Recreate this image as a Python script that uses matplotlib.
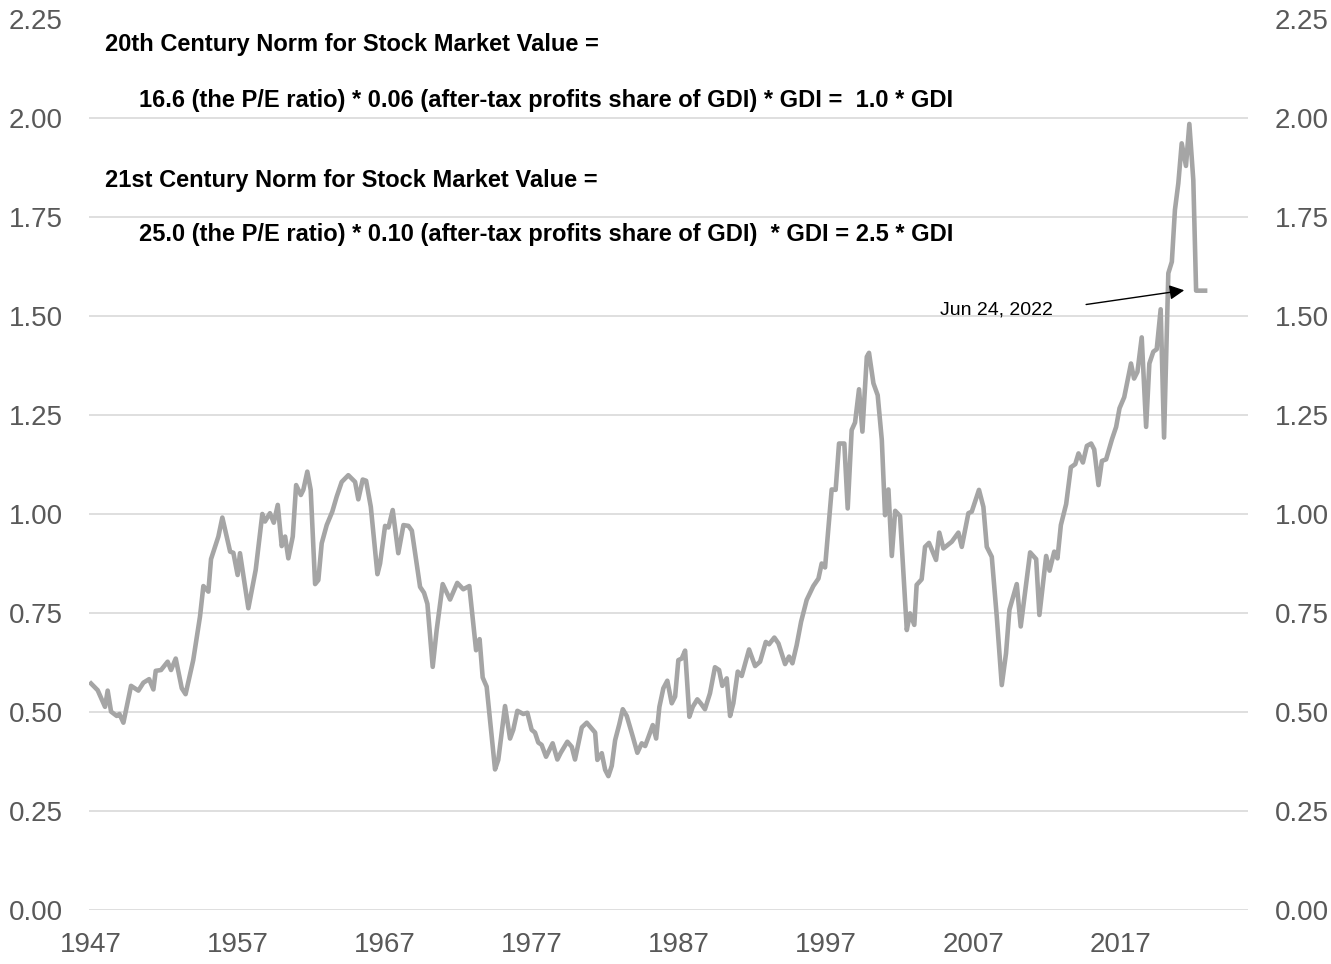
import matplotlib.pyplot as plt

# stock market value relative to GDI (fractional years)
years = [
    1947.00, 1947.45, 1947.95, 1948.13, 1948.36, 1948.75, 1948.93, 1949.20, 1949.72, 1950.22,
    1950.56, 1950.95, 1951.24, 1951.40, 1951.76, 1952.21, 1952.44, 1952.76, 1953.17, 1953.43,
    1953.95, 1954.41, 1954.64, 1954.98, 1955.16, 1955.66, 1955.93, 1956.46, 1956.68, 1956.97,
    1957.13, 1957.70, 1958.20, 1958.65, 1958.83, 1959.17, 1959.43, 1959.70, 1959.97, 1960.20,
    1960.42, 1960.72, 1960.95, 1961.27, 1961.44, 1961.71, 1961.94, 1962.24, 1962.46, 1962.69,
    1963.03, 1963.41, 1963.71, 1964.05, 1964.50, 1964.96, 1965.18, 1965.48, 1965.71, 1966.03,
    1966.48, 1966.66, 1967.00, 1967.23, 1967.52, 1967.90, 1968.25, 1968.59, 1968.82, 1969.38,
    1969.65, 1969.88, 1970.24, 1970.51, 1970.92, 1971.42, 1971.91, 1972.32, 1972.73, 1973.19,
    1973.43, 1973.64, 1973.91, 1974.48, 1974.70, 1975.16, 1975.50, 1975.72, 1976.00, 1976.40,
    1976.68, 1976.97, 1977.20, 1977.42, 1977.65, 1977.95, 1978.40, 1978.72, 1978.95, 1979.40,
    1979.70, 1979.92, 1980.38, 1980.72, 1981.29, 1981.44, 1981.74, 1981.97, 1982.19, 1982.42,
    1982.65, 1982.94, 1983.17, 1983.44, 1983.85, 1984.16, 1984.46, 1984.69, 1984.91, 1985.21,
    1985.44, 1985.66, 1985.93, 1986.20, 1986.50, 1986.73, 1986.95, 1987.18, 1987.41, 1987.70,
    1987.93, 1988.24, 1988.47, 1988.76, 1989.10, 1989.44, 1989.72, 1989.94, 1990.24, 1990.47,
    1990.69, 1990.99, 1991.26, 1991.76, 1992.17, 1992.51, 1992.90, 1993.12, 1993.48, 1993.76,
    1994.21, 1994.48, 1994.71, 1995.00, 1995.30, 1995.68, 1996.13, 1996.48, 1996.70, 1996.93,
    1997.15, 1997.38, 1997.65, 1997.88, 1998.24, 1998.47, 1998.74, 1998.97, 1999.24, 1999.47,
    1999.77, 1999.92, 2000.22, 2000.51, 2000.79, 2001.01, 2001.24, 2001.47, 2001.70, 2002.03,
    2002.49, 2002.71, 2003.00, 2003.16, 2003.50, 2003.73, 2004.00, 2004.48, 2004.70, 2004.98,
    2005.55, 2006.00, 2006.23, 2006.68, 2006.91, 2007.40, 2007.70, 2007.93, 2008.27, 2008.61,
    2008.95, 2009.24, 2009.47, 2009.97, 2010.24, 2010.88, 2011.29, 2011.51, 2011.97, 2012.20,
    2012.52, 2012.74, 2012.97, 2013.33, 2013.65, 2013.95, 2014.17, 2014.47, 2014.74, 2015.03,
    2015.24, 2015.53, 2015.76, 2016.05, 2016.44, 2016.73, 2016.96, 2017.28, 2017.74, 2017.95,
    2018.18, 2018.47, 2018.77, 2018.99, 2019.26, 2019.49, 2019.76, 2019.99, 2020.28, 2020.52,
    2020.73, 2020.96, 2021.19, 2021.48, 2021.71, 2021.98, 2022.17, 2022.78,
]
values = [
    0.572, 0.555, 0.513, 0.554, 0.501, 0.490, 0.495, 0.473, 0.566, 0.554,
    0.574, 0.583, 0.557, 0.604, 0.606, 0.627, 0.606, 0.635, 0.560, 0.545,
    0.631, 0.741, 0.818, 0.804, 0.886, 0.943, 0.991, 0.905, 0.902, 0.846,
    0.901, 0.762, 0.859, 1.000, 0.981, 1.002, 0.978, 1.023, 0.919, 0.943,
    0.888, 0.943, 1.073, 1.048, 1.061, 1.107, 1.061, 0.823, 0.833, 0.926,
    0.972, 1.006, 1.044, 1.081, 1.098, 1.081, 1.037, 1.087, 1.084, 1.018,
    0.848, 0.875, 0.970, 0.966, 1.010, 0.901, 0.972, 0.970, 0.958, 0.816,
    0.801, 0.773, 0.614, 0.707, 0.823, 0.784, 0.826, 0.810, 0.818, 0.656,
    0.684, 0.587, 0.564, 0.355, 0.379, 0.515, 0.433, 0.455, 0.503, 0.495,
    0.498, 0.455, 0.448, 0.423, 0.417, 0.387, 0.421, 0.380, 0.397, 0.425,
    0.412, 0.380, 0.461, 0.473, 0.448, 0.379, 0.396, 0.354, 0.338, 0.364,
    0.429, 0.470, 0.507, 0.490, 0.438, 0.397, 0.421, 0.414, 0.436, 0.467,
    0.433, 0.513, 0.560, 0.579, 0.522, 0.539, 0.631, 0.635, 0.655, 0.488,
    0.513, 0.532, 0.522, 0.507, 0.547, 0.613, 0.606, 0.566, 0.585, 0.490,
    0.522, 0.602, 0.591, 0.658, 0.616, 0.627, 0.677, 0.671, 0.688, 0.673,
    0.621, 0.640, 0.623, 0.669, 0.728, 0.783, 0.818, 0.837, 0.875, 0.865,
    0.960, 1.062, 1.061, 1.178, 1.178, 1.014, 1.212, 1.231, 1.315, 1.208,
    1.397, 1.407, 1.330, 1.300, 1.187, 0.997, 1.062, 0.894, 1.008, 0.995,
    0.707, 0.749, 0.720, 0.821, 0.835, 0.917, 0.927, 0.884, 0.953, 0.913,
    0.930, 0.953, 0.917, 1.002, 1.006, 1.061, 1.018, 0.917, 0.892, 0.741,
    0.568, 0.648, 0.758, 0.823, 0.716, 0.903, 0.886, 0.745, 0.894, 0.857,
    0.905, 0.888, 0.972, 1.025, 1.118, 1.126, 1.153, 1.130, 1.172, 1.178,
    1.163, 1.073, 1.134, 1.138, 1.188, 1.220, 1.267, 1.295, 1.380, 1.342,
    1.359, 1.446, 1.220, 1.380, 1.410, 1.416, 1.517, 1.193, 1.608, 1.637,
    1.768, 1.835, 1.936, 1.879, 1.985, 1.843, 1.564, 1.564,
]

x_ticks = [1947, 1957, 1967, 1977, 1987, 1997, 2007, 2017]
y_ticks = [0.0, 0.25, 0.5, 0.75, 1.0, 1.25, 1.5, 1.75, 2.0, 2.25]

# arrow pointing at the last reading
arrow_label = "Jun 24, 2022"
arrow_from = (2014.5, 1.528)
arrow_to = (2021.55, 1.566)

notes = [
    ("20th Century Norm for Stock Market Value =", 105, 45),
    ("16.6 (the P/E ratio) * 0.06 (after-tax profits share of GDI) * GDI =  1.0 * GDI", 139, 100),
    ("21st Century Norm for Stock Market Value =", 105, 180),
    ("25.0 (the P/E ratio) * 0.10 (after-tax profits share of GDI)  * GDI = 2.5 * GDI", 139, 235),
]

W, H = 1331, 964
plt.rcParams['font.family'] = ['Liberation Sans', 'DejaVu Sans']

fig = plt.figure(figsize=(W / 100, H / 100), dpi=100)
ax = fig.add_axes([89 / W, 54 / H, (1248 - 89) / W, (910 - 19) / H])

ax.plot(years, values, color='#a5a5a5', lw=3.3, solid_joinstyle='round', zorder=3)

ax.set_xlim(1946.86, 2025.7)
ax.set_ylim(0, 2.25)
ax.set_xticks(x_ticks)
ax.set_xticklabels([str(y) for y in x_ticks])
ax.set_yticks(y_ticks)
ax.set_yticklabels([f"{v:.2f}" for v in y_ticks])

ax.tick_params(axis='both', length=0, labelsize=20, colors='#595959')
ax.tick_params(axis='y', pad=19, right=True, labelright=True)
ax.tick_params(axis='x', pad=16)
for side in ax.spines.values():
    side.set_visible(False)

ax.grid(axis='y', color='#d9d9d9', lw=1.2, zorder=0)
ax.yaxis.get_gridlines()[-1].set_visible(False)  # no line at the top

# arrow and its date label
ax.annotate('', xy=arrow_to, xytext=arrow_from,
            arrowprops=dict(arrowstyle='-|>', color='black', lw=1, mutation_scale=22))
ax.text(2012.45, 1.515, arrow_label, ha='right', va='center', fontsize=14)

# the two norm formulas
for txt, px, py in notes:
    fig.text(px / W, 1 - py / H, txt, ha='left', va='center', fontsize=17, fontweight='bold')

plt.savefig("out.png", dpi=100)
